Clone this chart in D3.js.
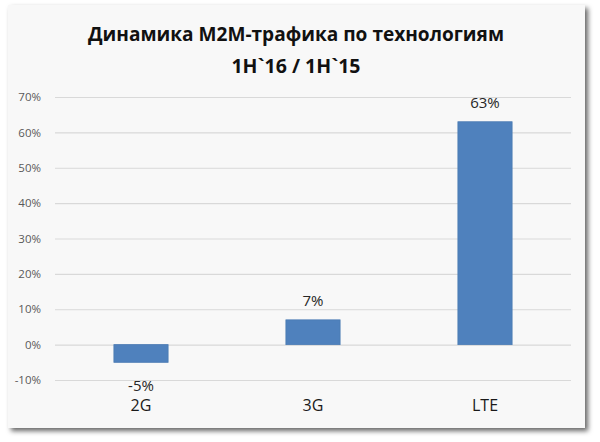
<!DOCTYPE html>
<html><head><meta charset="utf-8">
<script src="https://cdn.jsdelivr.net/npm/d3@7"></script>
<style>body{margin:0;background:#fff;} svg{display:block;}</style>
</head><body>
<svg id="c" width="600" height="442"></svg>
<script>
const categories = ["2G", "3G", "LTE"];
const values = [-5, 7, 63];
const valueLabels = ["-5%", "7%", "63%"];
const yTicks = [-10, 0, 10, 20, 30, 40, 50, 60, 70];
const titleLines = ["Динамика M2M-трафика по технологиям", "1H`16 / 1H`15"];

const svg = d3.select("#c");
const defs = svg.append("defs");
const f = defs.append("filter").attr("id","sh").attr("x","-5%").attr("y","-5%").attr("width","115%").attr("height","115%");
f.append("feDropShadow").attr("dx",3).attr("dy",3).attr("stdDeviation",2.5).attr("flood-color","#000").attr("flood-opacity",0.6);

svg.append("rect").attr("x",8).attr("y",5).attr("width",577).attr("height",423)
  .attr("fill","#f8f8f8").attr("filter","url(#sh)");

const left = 55, right = 571;
const y = d3.scaleLinear().domain([-10, 70]).range([380, 97]);
const x = d3.scaleBand().domain(categories).range([left, right]).paddingInner(0.685).paddingOuter(0.3425);

const g = svg.append("g");
const yAxis = d3.axisLeft(y).tickValues(yTicks).tickFormat(d => d + "%").tickSize(-(right-left)).tickPadding(14);
const ya = g.append("g").attr("transform", `translate(${left},0)`).call(yAxis);
ya.select(".domain").remove();
ya.selectAll(".tick line").attr("stroke","#d9d9d9").attr("stroke-width",1.2);
ya.selectAll(".tick text").attr("fill","#595959").attr("font-family","'Open Sans', sans-serif").attr("font-size",11.5);

g.selectAll("rect.bar").data(values).enter().append("rect").attr("class","bar")
  .attr("x",(d,i)=>x(categories[i])).attr("width",x.bandwidth())
  .attr("y",d=>y(Math.max(0,d))).attr("height",d=>Math.abs(y(d)-y(0)))
  .attr("fill","#4f81bd").attr("stroke","#4a7ab3").attr("stroke-width",0.8);

g.selectAll("text.vl").data(values).enter().append("text").attr("class","vl")
  .attr("x",(d,i)=>x(categories[i])+x.bandwidth()/2)
  .attr("y",d=> d>=0 ? y(d)-14 : y(d)+29)
  .attr("text-anchor","middle").attr("font-family","'Open Sans', sans-serif").attr("font-size",15).attr("fill","#262626")
  .text((d,i)=>valueLabels[i]);

const xAxis = d3.axisBottom(x).tickSize(0).tickPadding(0);
const xa = g.append("g").attr("transform","translate(0,398)").call(xAxis);
xa.select(".domain").remove();
xa.selectAll(".tick text").attr("font-family","'Open Sans', sans-serif").attr("font-size",16).attr("fill","#1a1a1a").attr("dy","0.8em");

svg.selectAll("text.title").data(titleLines).enter().append("text").attr("class","title")
  .attr("x",296).attr("y",(d,i)=>41+i*32).attr("text-anchor","middle")
  .attr("font-family","'Open Sans', sans-serif").attr("font-weight","bold").attr("font-size",19.5).attr("fill","#111")
  .attr("textLength",(d,i)=> i===0 ? 416 : null).attr("lengthAdjust","spacingAndGlyphs")
  .text(d=>d);
</script>
</body></html>
